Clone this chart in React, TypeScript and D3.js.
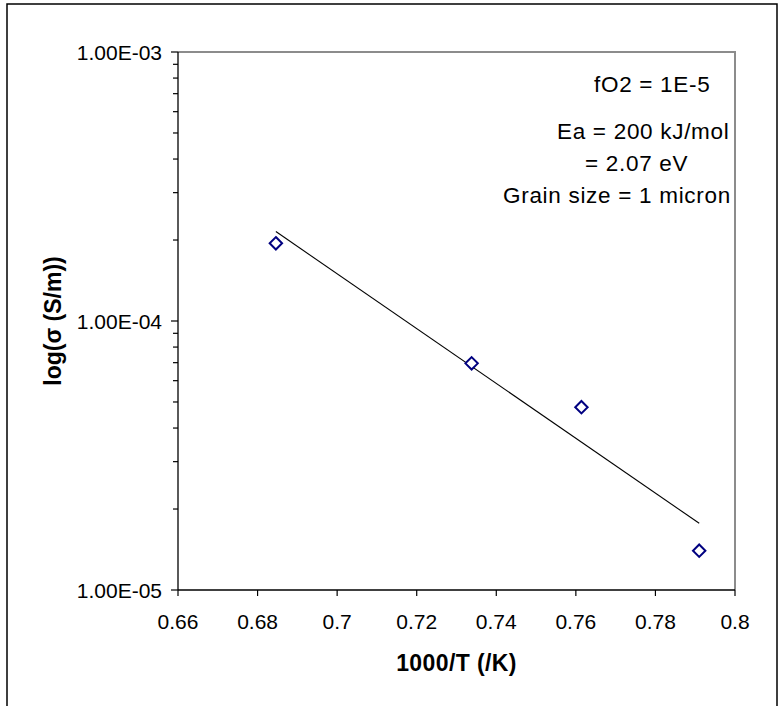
import React from "react";
import * as d3 from "d3";

// ---- data ----
const invT = [0.6846, 0.7338, 0.7614, 0.791];
const sigma = [1.945e-4, 6.96e-5, 4.78e-5, 1.4e-5];
const trendX = [0.6846, 0.791];
const trendY = [2.15e-4, 1.77e-5];
const xTicks = [0.66, 0.68, 0.7, 0.72, 0.74, 0.76, 0.78, 0.8];
const yMajor = [1e-3, 1e-4, 1e-5];
const yMajorLabels = ["1.00E-03", "1.00E-04", "1.00E-05"];
const notes = [
  { text: "fO2 = 1E-5", x: 594, y: 92 },
  { text: "Ea = 200 kJ/mol", x: 557, y: 139 },
  { text: "= 2.07 eV", x: 585, y: 171 },
  { text: "Grain size = 1 micron", x: 503, y: 203 },
];

const W = 779;
const H = 706;
const L = 178, R = 735, T = 52, B = 590;
const FONT = "'Liberation Sans', Arial, sans-serif";

export default function App() {
  const x = d3.scaleLinear().domain([0.66, 0.8]).range([L, R]);
  const y = d3.scaleLog().domain([1e-5, 1e-3]).range([B, T]);
  const minor: number[] = [];
  for (const d of [1e-5, 1e-4]) for (let k = 2; k <= 9; k++) minor.push(d * k);
  const line = d3
    .line<number>()
    .x((_, i) => x(trendX[i]))
    .y((d) => y(d));
  const diamond = d3.symbol().type(d3.symbolDiamond2).size(98)();

  return (
    <svg
      width={W}
      height={H}
      style={{ position: "absolute", left: 0, top: 0, background: "#fff" }}
      fontFamily={FONT}
    >
      <rect x={0} y={0} width={W} height={H} fill="#fff" />
      {/* outer chart frame */}
      <path d={`M7,${H + 20} V4 H777 V${H + 20}`} fill="none" stroke="#000" strokeWidth={1.5} />
      {/* plot area border (gray top/right) */}
      <path d={`M${L},${T} H${R} V${B}`} fill="none" stroke="#8c8c8c" strokeWidth={2} />
      {/* axes */}
      <line x1={L} x2={L} y1={T} y2={B} stroke="#000" strokeWidth={1.3} />
      <line x1={L} x2={R} y1={B} y2={B} stroke="#000" strokeWidth={1.3} />
      {/* y ticks */}
      {yMajor.map((v, i) => (
        <g key={"ym" + i}>
          <line x1={L - 7} x2={L} y1={y(v)} y2={y(v)} stroke="#000" strokeWidth={1.2} />
          <text x={162} y={y(v)} dy="0.36em" textAnchor="end" fontSize={21} fill="#000">
            {yMajorLabels[i]}
          </text>
        </g>
      ))}
      {minor.map((v, i) => (
        <line key={"yn" + i} x1={L - 5} x2={L} y1={y(v)} y2={y(v)} stroke="#000" strokeWidth={1.2} />
      ))}
      {/* x ticks */}
      {xTicks.map((v, i) => (
        <g key={"xt" + i}>
          <line x1={x(v)} x2={x(v)} y1={B} y2={B + 6} stroke="#000" strokeWidth={1.2} />
          <text x={x(v)} y={629} textAnchor="middle" fontSize={21} fill="#000">
            {String(v)}
          </text>
        </g>
      ))}
      {/* trend line */}
      <path d={line(trendY) || ""} fill="none" stroke="#000" strokeWidth={1.1} />
      {/* markers */}
      {invT.map((v, i) => (
        <path
          key={"pt" + i}
          d={diamond || ""}
          transform={`translate(${x(v)},${y(sigma[i])})`}
          fill="#fff"
          stroke="#000080"
          strokeWidth={2}
        />
      ))}
      {/* axis titles */}
      <text
        x={(L + R) / 2}
        y={671}
        textAnchor="middle"
        fontSize={23}
        fontWeight="bold"
        letterSpacing={0.4}
        fill="#000"
      >
        1000/T (/K)
      </text>
      <text
        transform={`translate(61,${(T + B) / 2}) rotate(-90)`}
        textAnchor="middle"
        fontSize={23}
        fontWeight="bold"
        fill="#000"
      >
        log(σ (S/m))
      </text>
      {/* annotations */}
      {notes.map((n, i) => (
        <text key={"n" + i} x={n.x} y={n.y} fontSize={22.5} letterSpacing={0.7} fill="#000">
          {n.text}
        </text>
      ))}
    </svg>
  );
}
